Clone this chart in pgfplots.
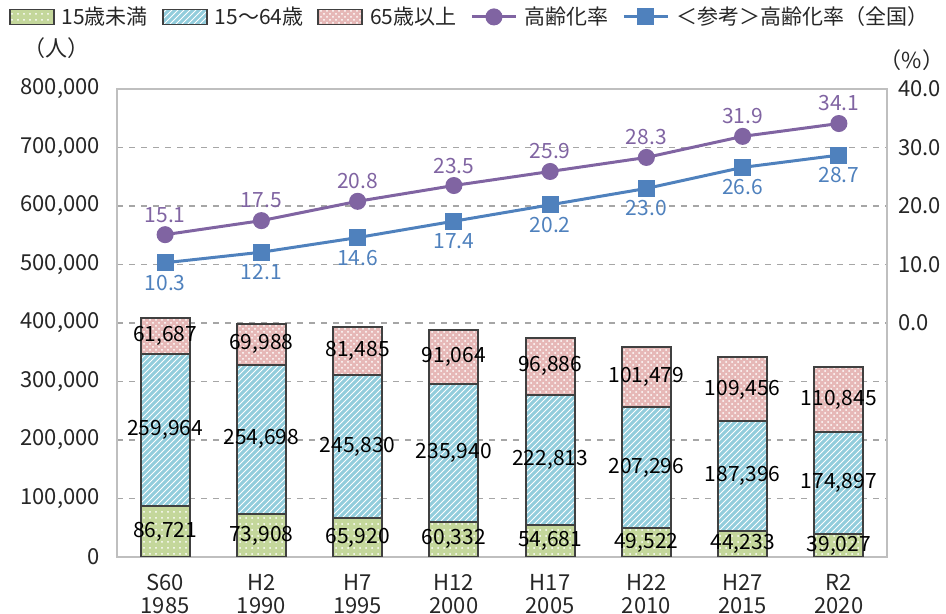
\documentclass[border=0pt]{standalone}
\usepackage{fontspec}
\setmainfont{Noto Sans CJK JP}
\usepackage{pgfplots}
\usepackage{pgfplotstable}
\pgfplotsset{compat=1.18}
\usetikzlibrary{patterns}
\definecolor{cgreen}{HTML}{C4D79B}
\definecolor{cblue}{HTML}{92CDDC}
\definecolor{cpink}{HTML}{E6B8B7}
\definecolor{cpurple}{HTML}{8064A2}
\definecolor{cline}{HTML}{4F81BD}
\definecolor{cframe}{HTML}{BFBFBF}
\definecolor{cedge}{HTML}{404040}
\definecolor{ctext}{HTML}{262626}
\pgfplotstableread{
x a b c r n
0 86721 259964 61687 15.1 10.3
1 73908 254698 69988 17.5 12.1
2 65920 245830 81485 20.8 14.6
3 60332 235940 91064 23.5 17.4
4 54681 222813 96886 25.9 20.2
5 49522 207296 101479 28.3 23.0
6 44233 187396 109456 31.9 26.6
7 39027 174897 110845 34.1 28.7
}\data
\pgfplotsset{
  base/.style={scale only axis, width=385pt, height=234pt, xmin=-0.5, xmax=7.5,
    font=\fontsize{11}{11.5}\selectfont, major tick length=0pt,
    /pgf/number format/assume math mode=true},
  gbar/.style={fill=cgreen, draw=cedge, line width=1pt, postaction={pattern=dots, pattern color=white}},
  bbar/.style={fill=cblue, draw=cedge, line width=1pt, postaction={pattern=north east lines, pattern color=white}},
  pbar/.style={fill=cpink, draw=cedge, line width=1pt, postaction={pattern=crosshatch dots, pattern color=white}},
  boxlegend/.style={legend image code/.code={\draw[##1] (0pt,-3.75pt) rectangle (22pt,3.75pt);}},
  linelegend/.style={legend image code/.code={\draw[##1, mark repeat=2, mark phase=2] plot coordinates {(0pt,0pt) (11pt,0pt) (22pt,0pt)};}},
  barlab/.style={draw=none, mark=none, nodes near coords, point meta=explicit symbolic,
    nodes near coords={\pgfmathprintnumber[fixed,1000 sep={,}]{\pgfplotspointmeta}},
    every node near coord/.append style={anchor=center, text=black, font=\fontsize{10.5}{11}\selectfont}},
}
\begin{document}
\begin{tikzpicture}
\useasboundingbox (-58.5pt,-28.5pt) rectangle (414.5pt,278.5pt);
% bars
\begin{axis}[base,
  ymin=0, ymax=800000,
  ybar stacked, bar width=24.5pt,
  xtick={0,...,7},
  xticklabels={{S60\\1985},{H2\\1990},{H7\\1995},{H12\\2000},{H17\\2005},{H22\\2010},{H27\\2015},{R2\\2020}},
  xticklabel style={align=center, text=ctext, yshift=-5pt},
  ytick={0,100000,...,800000},
  scaled y ticks=false,
  yticklabel style={/pgf/number format/fixed, /pgf/number format/1000 sep={,}, text=ctext, xshift=-5pt},
  ymajorgrids, grid style={dashed, gray!70, line width=0.8pt},
  axis line style={cframe, line width=1pt},
]
\addplot[gbar] table[x=x, y=a] {\data};
\addplot[bbar] table[x=x, y=b] {\data};
\addplot[pbar] table[x=x, y=c] {\data};
\end{axis}
% bar labels
\begin{axis}[base, ymin=0, ymax=800000, hide axis, clip=false]
\addplot[barlab] table[x=x, y expr=\thisrow{a}/2, meta=a] {\data};
\addplot[barlab] table[x=x, y expr=\thisrow{a}+\thisrow{b}/2, meta=b] {\data};
\addplot[barlab] table[x=x, y expr=\thisrow{a}+\thisrow{b}+\thisrow{c}/2, meta=c] {\data};
\node[text=ctext] at (axis description cs:-0.078,1.0876) {（人）};
\node[text=ctext] at (axis description cs:1.0325,1.062) {（\%）};
\end{axis}
% lines
\begin{axis}[base,
  ymin=-40, ymax=40,
  axis x line=none, axis y line*=right,
  y axis line style={draw=none},
  ytick={0,10,20,30,40},
  yticklabel style={/pgf/number format/fixed, /pgf/number format/fixed zerofill, /pgf/number format/precision=1, text=ctext, xshift=2pt},
  legend style={at={(axis description cs:-0.141,1.154)}, anchor=west, draw=none, fill=none,
    font=\fontsize{10.5}{11}\selectfont, text=ctext,
    /tikz/every odd column/.append style={column sep=1.5pt},
    /tikz/every even column/.append style={column sep=5pt},
    inner xsep=0pt},
  legend columns=5,
  legend cell align=left,
]
\addlegendimage{gbar, line width=0.9pt, boxlegend}
\addlegendimage{bbar, line width=0.9pt, boxlegend}
\addlegendimage{pbar, line width=0.9pt, boxlegend}
\addplot[cpurple, line width=1.5pt, mark=*, mark size=3.5pt,
  nodes near coords, point meta=explicit symbolic,
  every node near coord/.append style={anchor=center, yshift=10pt, text=cpurple, font=\fontsize{10.5}{11}\selectfont},
  linelegend]
  table[x=x, y=r, meta=r] {\data};
\addplot[cline, line width=1.5pt, mark=square*, mark size=3.5pt,
  nodes near coords, point meta=explicit symbolic,
  every node near coord/.append style={anchor=center, yshift=-10pt, text=cline, font=\fontsize{10.5}{11}\selectfont},
  linelegend]
  table[x=x, y=n, meta=n] {\data};
\legend{15歳未満, 15～64歳, 65歳以上, 高齢化率, ＜参考＞高齢化率（全国）}
\end{axis}
\end{tikzpicture}
\end{document}
